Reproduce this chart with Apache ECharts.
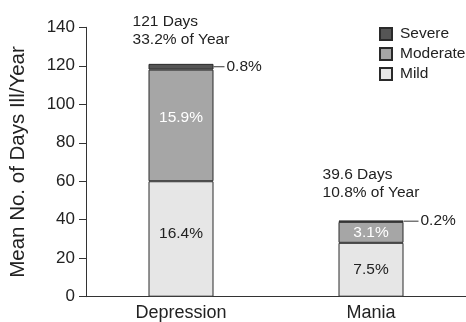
<!DOCTYPE html>
<html><head><meta charset="utf-8">
<script src="https://cdn.jsdelivr.net/npm/echarts@6/dist/echarts.min.js"></script>
<style>html,body{margin:0;padding:0;background:#fff}#c{width:466px;height:322px}</style>
</head><body><div id="c"></div>
<script>
const categories = ['Depression', 'Mania'];
const mildDays = [60, 28];
const moderateDays = [58, 10.9];
const severeDays = [3, 0.7];
const mildPct = ['16.4%', '7.5%'];
const moderatePct = ['15.9%', '3.1%'];
const severePct = ['0.8%', '0.2%'];
const totalDays = ['121 Days', '39.6 Days'];
const yearPct = ['33.2% of Year', '10.8% of Year'];
const yMin = 0, yMax = 140, yStep = 20;

const FONT = 'Liberation Sans';
const TXT = '#222';
const chart = echarts.init(document.getElementById('c'));
const border = {borderColor: '#2a2a2a', borderWidth: 1};
const leader = [11, 15];
const annotDist = [15, 19];

chart.setOption({
  animation: false,
  textStyle: {fontFamily: FONT, color: TXT},
  grid: {left: 85, top: 27.3, width: 385, bottom: 25.3},
  legend: {
    orient: 'vertical', left: 374, top: 21,
    itemWidth: 12, itemHeight: 12, itemGap: 4,
    data: ['Severe', 'Moderate', 'Mild'],
    textStyle: {fontFamily: FONT, fontSize: 15.5, color: TXT, padding: [0, 0, 0, 3]},
    icon: 'rect'
  },
  xAxis: {
    type: 'category', data: categories,
    axisLine: {lineStyle: {color: '#333', width: 1}},
    axisTick: {show: false},
    axisLabel: {fontFamily: FONT, fontSize: 18, color: TXT, margin: 7}
  },
  yAxis: {
    type: 'value', min: yMin, max: yMax, interval: yStep,
    name: 'Mean No. of Days Ill/Year', nameLocation: 'middle', nameGap: 57,
    nameTextStyle: {fontFamily: FONT, fontSize: 20.5, color: TXT},
    axisLine: {show: true, lineStyle: {color: '#333', width: 1}},
    axisTick: {show: true, length: 7, lineStyle: {color: '#333'}},
    axisLabel: {fontFamily: FONT, fontSize: 17, color: TXT, margin: 11},
    splitLine: {show: false}
  },
  series: [
    {
      name: 'Mild', type: 'bar', stack: 's', barWidth: 65,
      itemStyle: Object.assign({color: '#e6e6e6'}, border),
      label: {show: true, position: 'inside', fontSize: 15.5, color: TXT,
        formatter: p => mildPct[p.dataIndex]},
      data: mildDays.map((v, i) => ({value: v, label: {offset: [0, i === 0 ? -5 : 0]}}))
    },
    {
      name: 'Moderate', type: 'bar', stack: 's', barWidth: 65,
      itemStyle: Object.assign({color: '#a6a6a6'}, border),
      label: {show: true, position: 'inside', fontSize: 15.5, color: '#fff',
        formatter: p => moderatePct[p.dataIndex]},
      data: moderateDays.map((v, i) => ({value: v, label: {offset: [0, i === 0 ? -8 : 0]}}))
    },
    {
      name: 'Severe', type: 'bar', stack: 's', barWidth: 65,
      itemStyle: Object.assign({color: '#555555'}, border),
      label: {show: true, position: 'right', distance: 0, color: TXT,
        formatter: p => '{ln|}{t|' + severePct[p.dataIndex] + '}'},
      data: severeDays.map((v, i) => ({
        value: v,
        label: {rich: {
          ln: {width: leader[i], height: 1, backgroundColor: '#333', verticalAlign: 'middle'},
          t: {fontFamily: FONT, fontSize: 15.5, color: TXT, padding: [0, 0, 0, 2]}
        }}
      }))
    },
    {
      name: 'Total', type: 'bar', stack: 's', barWidth: 65,
      itemStyle: {color: 'transparent', borderWidth: 0},
      label: {show: true, position: 'top', color: TXT,
        formatter: p => '{a|' + totalDays[p.dataIndex] + '}\n{a|' + yearPct[p.dataIndex] + '}',
        rich: {a: {align: 'left', fontFamily: FONT, fontSize: 15.5, lineHeight: 18, color: TXT}}},
      data: categories.map((c, i) => ({value: 0, label: {distance: annotDist[i]}}))
    }
  ]
});
</script></body></html>
